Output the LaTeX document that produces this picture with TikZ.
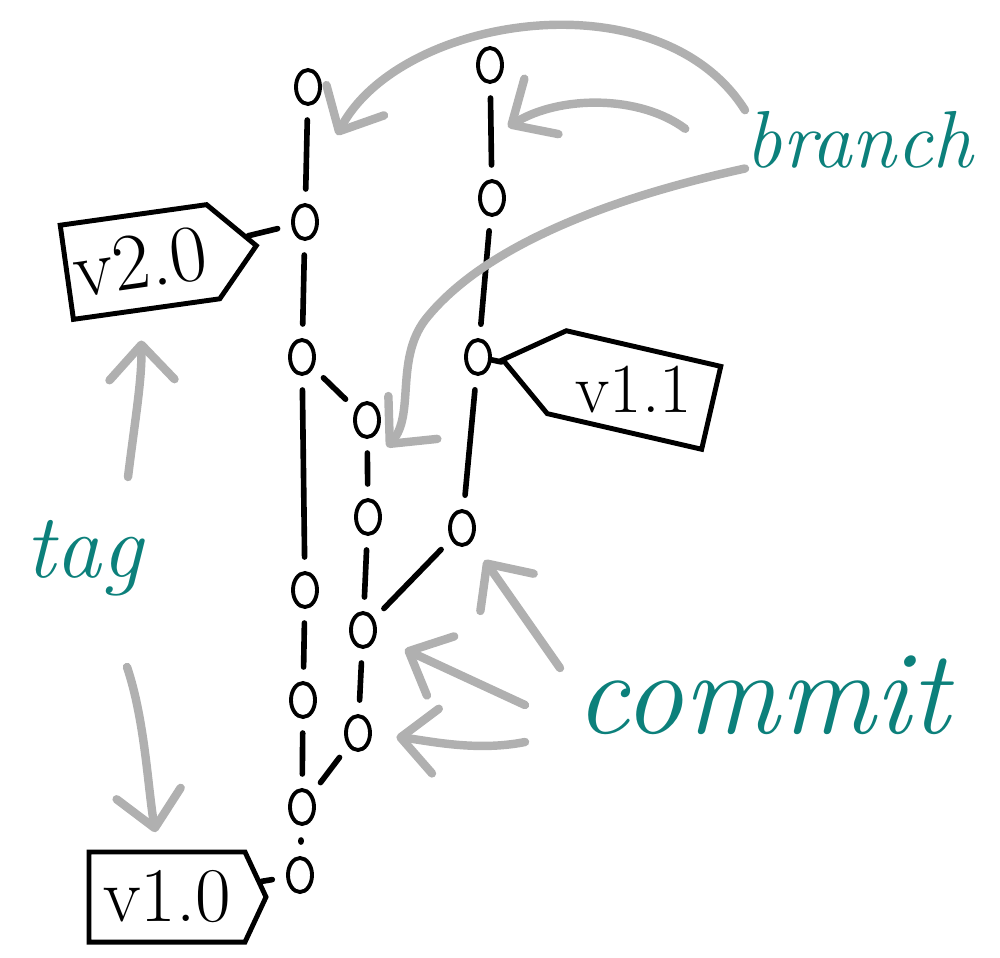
\documentclass[tikz,border=0pt]{standalone}
\usepackage{fontspec}
\usepackage{tikz}
\usetikzlibrary{arrows.meta,shapes.geometric,shapes.symbols,positioning}
\definecolor{handteal}{RGB}{12,128,123}
\definecolor{pointgray}{RGB}{176,176,176}

\begin{document}
\begin{tikzpicture}[x=0.01cm,y=-0.01cm,
  commit/.style={ellipse,draw,line width=1.1pt,minimum width=2.4mm,minimum height=3.4mm,inner sep=0pt},
  link/.style={line width=1.6pt,line cap=round,shorten <=4pt,shorten >=4pt},
  tagsign/.style={signal,draw,line width=1.4pt,inner xsep=2pt,inner ysep=0pt},
  hand/.style={handteal,inner sep=0pt,anchor=base west},
  pointer/.style={pointgray,line width=2.4pt,line cap=round,-{Straight Barb[length=3.5mm,width=6.5mm,round]}}]
\useasboundingbox (0,0) rectangle (1000,957);
\foreach \n/\x/\y in {l1/308/87,l2/305/222,l3/302/357,l4/305/590,l5/303/700,l6/302/807,l7/300/875,
  m1/367/420,m2/368/517,m3/363/630,m4/358/733,r1/490/65,r2/492/198,r3/478/357,r4/462/528}
  \node[commit] (\n) at (\x,\y) {};
\foreach \a/\b in {l1/l2,l2/l3,l3/l4,l4/l5,l5/l6,l6/l7,l3/m1,m1/m2,m2/m3,m3/m4,m4/l6,r1/r2,r2/r3,r3/r4,r4/m3}
  \draw[link] (\a) -- (\b);
\node[tagsign,signal to=east,signal pointer angle=95,rotate=8,minimum height=9.5mm,
  font=\fontsize{23}{28}\selectfont] (v20) at (140,262) {v2.0};
\node[tagsign,signal to=west,signal pointer angle=75,rotate=-13,minimum height=8.5mm,inner xsep=6pt,
  font=\fontsize{20}{24}\selectfont] (v11) at (634,390) {\phantom{v1.1}};
\node[font=\fontsize{20}{24}\selectfont,inner sep=0pt] (v11text) at (v11.center) {v1.1};
\node[tagsign,signal to=east,signal pointer angle=130,minimum height=9mm,inner xsep=4pt,
  font=\fontsize{22}{26}\selectfont] (v10) at (167,897) {v1.0};
\draw[link,shorten <=0pt] (v20) -- (l2);
\draw[link,shorten <=0pt,shorten >=0pt] (r3) -- (v11);
\draw[link,shorten <=0pt] (v10) -- (l7);
\node[hand,font=\fontsize{23}{28}\selectfont\itshape] (branchlabel) at (745,167) {branch};
\node[hand,font=\fontsize{26}{30}\selectfont\itshape] (taglabel) at (25,577) {tag};
\node[hand,font=\fontsize{34}{40}\selectfont\itshape] (commitlabel) at (575,733) {commit};
\coordinate (headl1) at (337,135);
\coordinate (headr1) at (508,127);
\coordinate (headm1) at (387,447);
\coordinate (tailtag1) at (128,477);
\coordinate (tailtag2) at (127,667);
\coordinate (tailc1) at (560,668);
\coordinate (tailc2) at (525,705);
\coordinate (tailc3) at (525,742);
\draw[pointer] (branchlabel.north west) .. controls (660,-25) and (400,15) .. (headl1);
\draw[pointer] ([shift={(-17pt,3pt)}]branchlabel.west) .. controls (640,95) and (560,95) .. (headr1);
\draw[pointer] (branchlabel.south west) .. controls (600,200) and (480,250) .. (425,320)
  .. controls (395,360) and (415,415) .. (headm1);
\draw[pointer,shorten >=8pt] (tailtag1) .. controls (135,420) and (142,380) .. (v20);
\draw[pointer,shorten >=5pt] (tailtag2) .. controls (145,720) and (148,790) .. (v10);
\draw[pointer,shorten >=6.4pt] (tailc1) -- (r4);
\draw[pointer,shorten >=9pt] (tailc2) -- (m3);
\draw[pointer,shorten >=7pt] (tailc3) .. controls (475,752) and (425,740) .. (m4);
\end{tikzpicture}
\end{document}
